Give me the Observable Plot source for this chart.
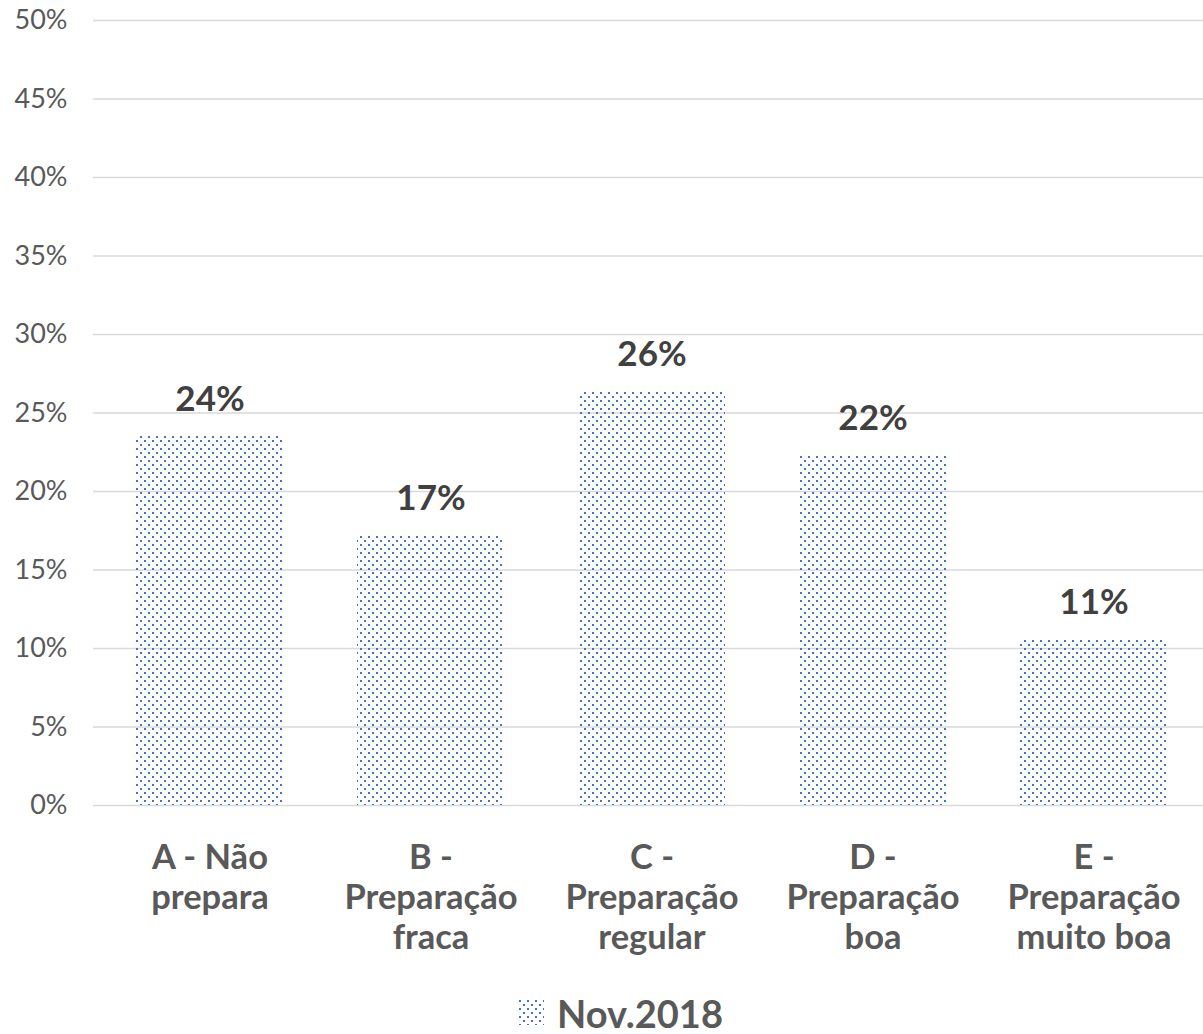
<!DOCTYPE html>
<html>
<head>
<meta charset="utf-8">
<script src="https://cdn.jsdelivr.net/npm/d3@7"></script>
<script src="https://cdn.jsdelivr.net/npm/@observablehq/plot@0.6"></script>
<style>
  html, body { margin: 0; padding: 0; background: #fff; }
  body { width: 1203px; font-family: Lato, "Open Sans", sans-serif; }
  #legend { box-sizing: border-box; width: 1203px; height: 44px; padding-top: 1px; display: flex; align-items: center; justify-content: center; gap: 13px; color: #595959; font-weight: bold; font-size: 38px; line-height: 1; padding-left: 39px; }
  #legend svg { display: block; }
</style>
</head>
<body>
<div id="chart"></div>
<div id="legend"><svg width="25" height="25"><defs><pattern id="dotsL" width="8" height="8" patternUnits="userSpaceOnUse"><rect x="0" y="0" width="2" height="2" fill="#4472C4"/><rect x="4" y="4" width="2" height="2" fill="#4472C4"/></pattern></defs><rect width="25" height="25" fill="url(#dotsL)"/></svg><span>Nov.2018</span></div>
<script>
const categories = ["A - Não\nprepara", "B -\nPreparação\nfraca", "C -\nPreparação\nregular", "D -\nPreparação\nboa", "E -\nPreparação\nmuito boa"];
const values = [23.5, 17.2, 26.4, 22.3, 10.6];
const valueLabels = ["24%", "17%", "26%", "22%", "11%"];
const yTicks = [0, 5, 10, 15, 20, 25, 30, 35, 40, 45, 50];

const data = categories.map((c, i) => ({category: c, value: values[i], label: valueLabels[i]}));

const plot = Plot.plot({
  width: 1203,
  height: 990,
  marginTop: 20,
  marginBottom: 185,
  marginLeft: 98,
  marginRight: -3,
  style: {fontFamily: "Lato, 'Open Sans', sans-serif", background: "#fff", overflow: "visible", display: "block"},
  x: {domain: categories, paddingInner: 0.333, paddingOuter: 0.167, axis: null},
  y: {domain: [0, 50], axis: null},
  marks: [
    Plot.ruleY(yTicks, {stroke: "#d9d9d9", strokeWidth: 1.5, insetLeft: -5}),
    Plot.barY(data, {x: "category", y: "value", fill: "url(#dots)"}),
    Plot.text(yTicks, {y: d => d, text: d => d + "%", frameAnchor: "left", textAnchor: "end", dx: -31, fontSize: 27, fill: "#595959"}),
    Plot.text(data, {x: "category", y: "value", text: "label", dy: -36.5, fontSize: 35, fontWeight: "bold", fill: "#404040"}),
    Plot.text(data, {x: "category", y: 0, text: "category", lineAnchor: "top", dy: 35, fontSize: 34.5, lineHeight: 1.16, fontWeight: "bold", fill: "#595959"})
  ]
});

const ns = "http://www.w3.org/2000/svg";
const defs = document.createElementNS(ns, "defs");
defs.innerHTML = '<pattern id="dots" width="8" height="8" patternUnits="userSpaceOnUse"><rect x="0" y="0" width="2" height="2" fill="#4472C4"/><rect x="4" y="4" width="2" height="2" fill="#4472C4"/></pattern>';
plot.insertBefore(defs, plot.firstChild);
document.getElementById("chart").appendChild(plot);
</script>
</body>
</html>
